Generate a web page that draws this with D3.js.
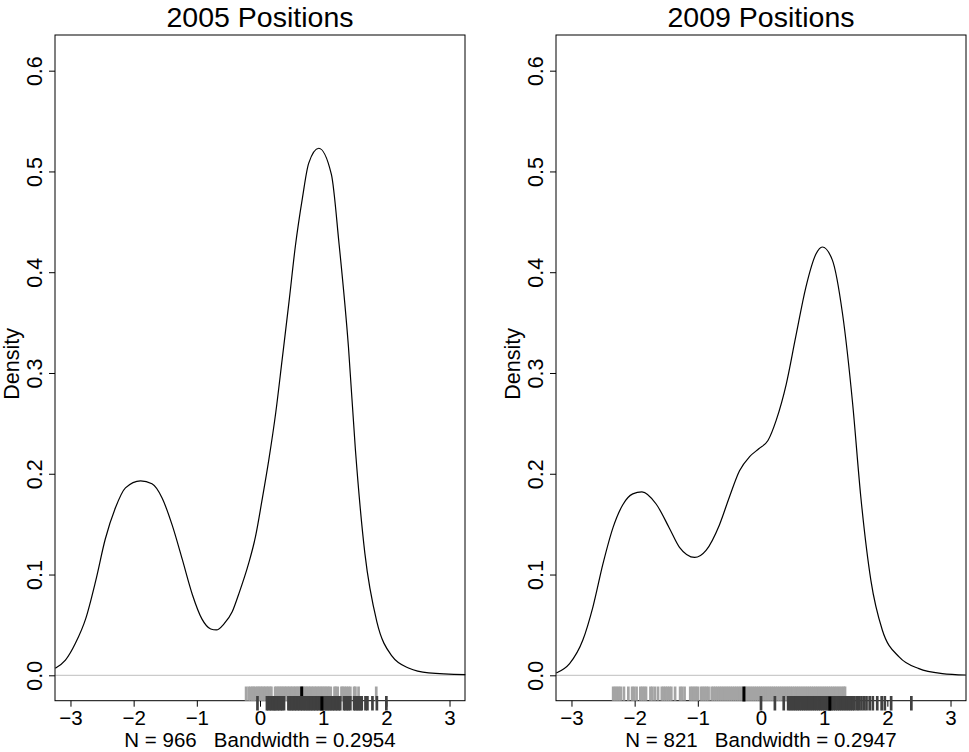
<!DOCTYPE html>
<html>
<head>
<meta charset="utf-8">
<script src="https://cdn.jsdelivr.net/npm/d3@7"></script>
<style>
  html, body { margin: 0; padding: 0; background: #fff; }
  svg { display: block; }
  text { font-family: "Liberation Sans", Arial, Helvetica, sans-serif; fill: #000; }
  .sub { white-space: pre; }
</style>
</head>
<body>
<svg id="chart" width="969" height="752"></svg>
<script>
// ---------------- DATA ----------------
const panelTitles = ["2005 Positions", "2009 Positions"];
const subLabels = ["N = 966   Bandwidth = 0.2954", "N = 821   Bandwidth = 0.2947"];
const xTicks = [-3, -2, -1, 0, 1, 2, 3];
const yTicks = [0.0, 0.1, 0.2, 0.3, 0.4, 0.5, 0.6];
const yLabel = "Density";

// 2005 density curve
const x2005 = [-3.24, -3.08, -2.92, -2.76, -2.60, -2.45, -2.29, -2.13, -1.89, -1.71, -1.55, -1.39, -1.23, -1.07, -0.92, -0.78, -0.69, -0.57, -0.44, -0.34, -0.18, -0.07, 0.03, 0.14, 0.25, 0.35, 0.46, 0.56, 0.67, 0.77, 0.93, 1.13, 1.25, 1.40, 1.51, 1.66, 1.85, 2.09, 2.36, 2.67, 3.25];
const y2005 = [0.007, 0.015, 0.032, 0.056, 0.094, 0.135, 0.166, 0.186, 0.193, 0.190, 0.176, 0.149, 0.115, 0.080, 0.056, 0.046, 0.045, 0.051, 0.063, 0.080, 0.111, 0.138, 0.173, 0.214, 0.261, 0.313, 0.371, 0.426, 0.473, 0.508, 0.523, 0.497, 0.429, 0.326, 0.224, 0.121, 0.053, 0.019, 0.007, 0.0024, 0.0007];

// 2009 density curve
const x2009 = [-3.24, -3.03, -2.82, -2.66, -2.50, -2.34, -2.19, -2.03, -1.885, -1.66, -1.45, -1.29, -1.05, -0.87, -0.66, -0.50, -0.34, -0.18, -0.03, 0.11, 0.24, 0.40, 0.55, 0.71, 0.87, 0.97, 1.13, 1.29, 1.45, 1.58, 1.74, 1.92, 2.19, 2.50, 2.87, 3.24];
const y2009 = [0.0023, 0.0116, 0.035, 0.068, 0.111, 0.147, 0.169, 0.180, 0.182, 0.170, 0.146, 0.127, 0.117, 0.124, 0.149, 0.177, 0.203, 0.217, 0.225, 0.233, 0.253, 0.289, 0.336, 0.385, 0.418, 0.425, 0.412, 0.359, 0.270, 0.177, 0.094, 0.045, 0.018, 0.0066, 0.0017, 0.0003];

// rug values (light gray group and dark gray group), plus black marker values
const rugLight2005 = [-0.22, -0.18, -0.15, -0.12, -0.10, -0.07, -0.04, -0.02, 0.01, 0.03, 0.06, 0.08, 0.11, 0.13, 0.16, 0.18, 0.24, 0.26, 0.29, 0.31, 0.34, 0.36, 0.39, 0.41, 0.44, 0.46, 0.49, 0.51, 0.54, 0.56, 0.59, 0.61, 0.64, 0.67, 0.69, 0.72, 0.74, 0.77, 0.79, 0.82, 0.84, 0.87, 0.89, 0.92, 0.94, 0.97, 0.99, 1.02, 1.04, 1.07, 1.09, 1.12, 1.18, 1.20, 1.23, 1.29, 1.31, 1.34, 1.37, 1.40, 1.43, 1.49, 1.51, 1.56, 1.84];
const rugDark2005 = [-0.04, 0.11, 0.13, 0.16, 0.18, 0.21, 0.23, 0.25, 0.28, 0.30, 0.33, 0.35, 0.38, 0.45, 0.47, 0.50, 0.52, 0.55, 0.57, 0.60, 0.62, 0.65, 0.67, 0.70, 0.72, 0.75, 0.77, 0.80, 0.82, 0.85, 0.87, 0.90, 0.92, 0.95, 0.97, 1.00, 1.02, 1.05, 1.07, 1.10, 1.12, 1.15, 1.17, 1.20, 1.22, 1.25, 1.27, 1.33, 1.35, 1.38, 1.40, 1.43, 1.49, 1.51, 1.54, 1.56, 1.59, 1.61, 1.67, 1.70, 1.78, 1.85, 2.00];
const markLight2005 = 0.66;
const markDark2005 = 0.98;

const rugLight2009 = [-2.34, -2.31, -2.28, -2.25, -2.22, -2.17, -2.10, -2.04, -2.01, -1.97, -1.91, -1.88, -1.85, -1.82, -1.75, -1.72, -1.68, -1.63, -1.57, -1.54, -1.51, -1.48, -1.45, -1.42, -1.36, -1.28, -1.25, -1.21, -1.12, -1.09, -1.06, -1.03, -1.00, -0.95, -0.92, -0.89, -0.86, -0.83, -0.78, -0.75, -0.72, -0.69, -0.66, -0.63, -0.60, -0.57, -0.54, -0.51, -0.48, -0.45, -0.42, -0.39, -0.36, -0.33, -0.30, -0.25, -0.22, -0.19, -0.16, -0.13, -0.10, -0.07, -0.04, -0.01, 0.02, 0.05, 0.08, 0.11, 0.14, 0.17, 0.20, 0.23, 0.26, 0.29, 0.32, 0.35, 0.38, 0.41, 0.44, 0.47, 0.50, 0.53, 0.56, 0.59, 0.62, 0.65, 0.68, 0.71, 0.74, 0.77, 0.80, 0.83, 0.86, 0.89, 0.92, 0.95, 0.98, 1.01, 1.04, 1.07, 1.10, 1.13, 1.16, 1.19, 1.22, 1.25, 1.28, 1.31, 1.33];
const rugDark2009 = [0.00, 0.22, 0.36, 0.43, 0.46, 0.49, 0.52, 0.55, 0.58, 0.61, 0.64, 0.67, 0.70, 0.73, 0.76, 0.79, 0.82, 0.85, 0.88, 0.91, 0.94, 0.97, 1.00, 1.03, 1.06, 1.09, 1.12, 1.15, 1.18, 1.21, 1.24, 1.27, 1.30, 1.33, 1.36, 1.39, 1.42, 1.45, 1.48, 1.52, 1.55, 1.59, 1.63, 1.67, 1.72, 1.77, 1.84, 1.91, 1.96, 2.06, 2.38];
const markLight2009 = -0.27;
const markDark2009 = 1.09;

// ---------------- DRAW ----------------
const svg = d3.select("#chart");
svg.append("rect").attr("width", 969).attr("height", 752).attr("fill", "#fff");

const panels = [
  { left: 55, title: panelTitles[0], sub: subLabels[0], xs: x2005, ys: y2005,
    light: rugLight2005, dark: rugDark2005, mLight: markLight2005, mDark: markDark2005 },
  { left: 556, title: panelTitles[1], sub: subLabels[1], xs: x2009, ys: y2009,
    light: rugLight2009, dark: rugDark2009, mLight: markLight2009, mDark: markDark2009 }
];

const boxTop = 35, boxBottom = 700.7, boxW = 410;
const fmtX = d => (d < 0 ? "\u2212" + Math.abs(d) : String(d));

panels.forEach(p => {
  const x = d3.scaleLinear().domain([-3.245, 3.245]).range([p.left, p.left + boxW]);
  const y = d3.scaleLinear().domain([-0.0252, 0.6354]).range([boxBottom, boxTop]);
  const g = svg.append("g");

  // zero line
  g.append("line")
    .attr("x1", p.left).attr("x2", p.left + boxW)
    .attr("y1", y(0)).attr("y2", y(0))
    .attr("stroke", "#bebebe").attr("stroke-width", 1);

  // density curve
  const pts = p.xs.map((v, i) => [v, p.ys[i]]);
  g.append("path")
    .datum(pts)
    .attr("fill", "none")
    .attr("stroke", "#000")
    .attr("stroke-width", 1.2)
    .attr("d", d3.line().x(d => x(d[0])).y(d => y(d[1])).curve(d3.curveMonotoneX));

  // x axis
  const xa = g.append("g").attr("transform", `translate(0,${boxBottom})`)
    .call(d3.axisBottom(x).tickValues(xTicks).tickSize(6).tickPadding(3).tickFormat(fmtX));
  xa.select(".domain").remove();
  xa.selectAll("line").attr("stroke", "#000");
  xa.selectAll("text").attr("font-size", 20.5).attr("dy", null).attr("y", 24)
    .style("font-family", '"Liberation Sans", Arial, sans-serif');

  // y axis
  const ya = g.append("g").attr("transform", `translate(${p.left},0)`)
    .call(d3.axisLeft(y).tickValues(yTicks).tickSize(6).tickFormat(d3.format(".1f")));
  ya.select(".domain").remove();
  ya.selectAll("line").attr("stroke", "#000");
  ya.selectAll("text")
    .attr("font-size", 21.5)
    .attr("x", null).attr("dy", null)
    .attr("text-anchor", "middle")
    .attr("transform", "translate(-13,0) rotate(-90)")
    .style("font-family", '"Liberation Sans", Arial, sans-serif');

  // box
  g.append("rect")
    .attr("x", p.left).attr("y", boxTop)
    .attr("width", boxW).attr("height", boxBottom - boxTop)
    .attr("fill", "none").attr("stroke", "#000").attr("stroke-width", 1);

  // rugs
  g.append("g").selectAll("line").data(p.light).join("line")
    .attr("x1", d => x(d)).attr("x2", d => x(d))
    .attr("y1", 686.5).attr("y2", 700.7)
    .attr("stroke", "#a4a4a4").attr("stroke-width", 2.7);
  g.append("line")
    .attr("x1", x(p.mLight)).attr("x2", x(p.mLight))
    .attr("y1", 686.5).attr("y2", 701.5)
    .attr("stroke", "#000").attr("stroke-width", 3);
  g.append("g").selectAll("line").data(p.dark).join("line")
    .attr("x1", d => x(d)).attr("x2", d => x(d))
    .attr("y1", 696).attr("y2", 710.5)
    .attr("stroke", "#404040").attr("stroke-width", 2.7);
  g.append("line")
    .attr("x1", x(p.mDark)).attr("x2", x(p.mDark))
    .attr("y1", 696.5).attr("y2", 710.5)
    .attr("stroke", "#000").attr("stroke-width", 3);

  // title
  g.append("text")
    .attr("x", p.left + boxW / 2).attr("y", 26.5)
    .attr("text-anchor", "middle").attr("font-size", 28.5)
    .text(p.title);

  // sub label
  g.append("text")
    .attr("class", "sub")
    .attr("x", p.left + boxW / 2).attr("y", 747)
    .attr("text-anchor", "middle").attr("font-size", 20.5)
    .text(p.sub);

  // y label
  g.append("text")
    .attr("transform", `translate(${p.left - 36},${(boxTop + boxBottom) / 2 - 4}) rotate(-90)`)
    .attr("text-anchor", "middle").attr("font-size", 21.5)
    .text(yLabel);
});
</script>
</body>
</html>
